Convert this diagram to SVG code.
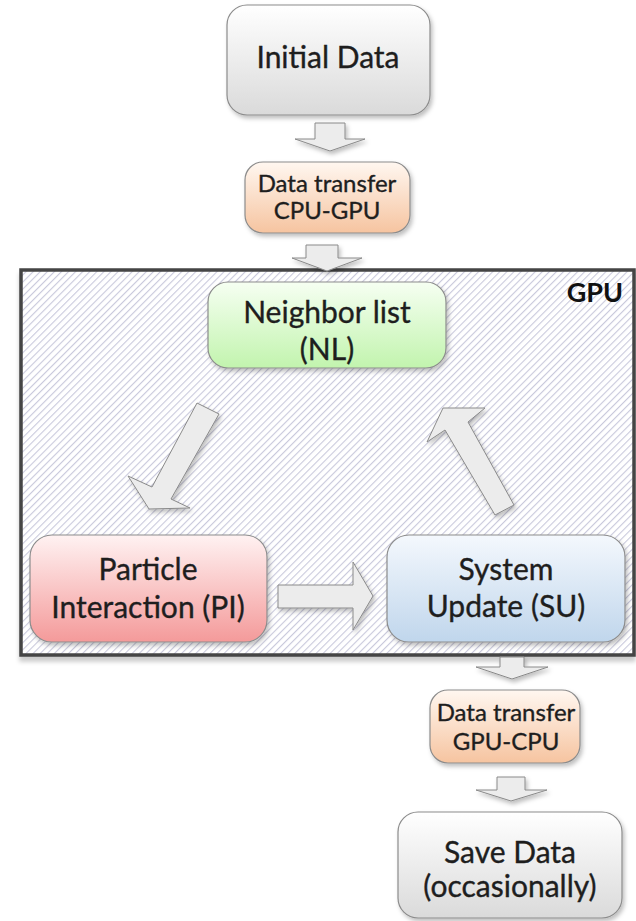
<svg xmlns="http://www.w3.org/2000/svg" width="636" height="921" viewBox="0 0 636 921">
<defs>
<style>
.t{font-family:Lato,"Open Sans","Liberation Sans",sans-serif;fill:#1e1e1e;stroke:#1e1e1e;stroke-width:0.35;text-anchor:middle}
.big{font-size:30px}
.small{font-size:24px}
.node{stroke:#8c8c8c;stroke-width:1.2}
.arr{fill:#ececec;stroke:#8a8a8a;stroke-width:1;filter:url(#sh)}
</style>
<filter id="sh" x="-20%" y="-20%" width="150%" height="150%">
<feDropShadow dx="2" dy="3" stdDeviation="2" flood-color="#000" flood-opacity="0.25"/>
</filter>
<filter id="shb" x="-5%" y="-5%" width="110%" height="115%">
<feDropShadow dx="0" dy="5" stdDeviation="2" flood-color="#000" flood-opacity="0.2"/>
</filter>
<linearGradient id="gGray" x1="0" y1="0" x2="0" y2="1"><stop offset="0" stop-color="#ffffff"/><stop offset="1" stop-color="#dadada"/></linearGradient>
<linearGradient id="gPeach" x1="0" y1="0" x2="0" y2="1"><stop offset="0" stop-color="#fff7f0"/><stop offset="1" stop-color="#f6c4a0"/></linearGradient>
<linearGradient id="gGreen" x1="0" y1="0" x2="0" y2="1"><stop offset="0" stop-color="#f6fff2"/><stop offset="1" stop-color="#c2f4ae"/></linearGradient>
<linearGradient id="gRed" x1="0" y1="0" x2="0" y2="1"><stop offset="0" stop-color="#fff2f2"/><stop offset="1" stop-color="#f49a9a"/></linearGradient>
<linearGradient id="gBlue" x1="0" y1="0" x2="0" y2="1"><stop offset="0" stop-color="#f4f8fd"/><stop offset="1" stop-color="#c0d6ec"/></linearGradient>
<pattern id="hatch" patternUnits="userSpaceOnUse" width="5" height="10" patternTransform="rotate(45)">
<rect width="5" height="10" fill="#ffffff"/>
<line x1="0.5" y1="0" x2="0.5" y2="10" stroke="#c9c9dc" stroke-width="1.2"/>
</pattern>
</defs>

<g id="gpu">
<rect x="21" y="270" width="613" height="385" fill="url(#hatch)" stroke="#444" stroke-width="3.5" filter="url(#shb)"/>
<text x="623" y="302" style="font-family:Lato,'Open Sans','Liberation Sans',sans-serif;font-size:27px;font-weight:bold;fill:#111;text-anchor:end">GPU</text>
</g>

<g id="connectors">
<polygon class="arr" points="315,123 345,123 345,139 365,139 330,151 295,139 315,139"/>
<polygon class="arr" points="306,245 338,245 338,258 362,258 327,271 292,258 306,258"/>
<polygon class="arr" points="197,403 219,414 171,499 190,508 149,509 128,476 152,487"/>
<polygon class="arr" points="514,505 495,515 445,430 427,442 443,408 485,408 468,422"/>
<polygon class="arr" points="278,585 353,585 353,562 373,596 353,630 353,608 278,608"/>
<polygon class="arr" points="500,657 524,657 524,667 548,667 512,679 476,667 500,667"/>
<polygon class="arr" points="497,777 525,777 525,790 547,790 511,801 476,790 497,790"/>
</g>

<g id="initial">
<rect class="node" x="227" y="5" width="203" height="110" rx="20" fill="url(#gGray)" filter="url(#sh)"/>
<text class="t big" x="328" y="68">Initial Data</text>
</g>

<g id="cpugpu">
<rect class="node" x="245" y="162" width="165" height="71" rx="18" fill="url(#gPeach)" filter="url(#sh)"/>
<text class="t small" x="327" y="192">Data transfer</text>
<text class="t small" x="327" y="219">CPU-GPU</text>
</g>

<g id="nl">
<rect class="node" x="208" y="282" width="238" height="86" rx="20" fill="url(#gGreen)" filter="url(#sh)"/>
<text class="t big" x="327" y="323">Neighbor list</text>
<text class="t big" x="327" y="360">(NL)</text>
</g>

<g id="pi">
<rect class="node" x="30" y="535" width="237" height="107" rx="22" fill="url(#gRed)" filter="url(#sh)"/>
<text class="t big" x="148" y="580">Particle</text>
<text class="t big" x="148" y="618">Interaction (PI)</text>
</g>

<g id="su">
<rect class="node" x="387" y="535" width="238" height="107" rx="22" fill="url(#gBlue)" filter="url(#sh)"/>
<text class="t big" x="506" y="580">System</text>
<text class="t big" x="506" y="617">Update (SU)</text>
</g>

<g id="gpucpu">
<rect class="node" x="430" y="690" width="150" height="73" rx="18" fill="url(#gPeach)" filter="url(#sh)"/>
<text class="t small" x="506" y="721">Data transfer</text>
<text class="t small" x="506" y="750">GPU-CPU</text>
</g>

<g id="save">
<rect class="node" x="398" y="812" width="224" height="106" rx="20" fill="url(#gGray)" filter="url(#sh)"/>
<text class="t big" x="510" y="863">Save Data</text>
<text class="t big" x="510" y="897">(occasionally)</text>
</g>
</svg>
